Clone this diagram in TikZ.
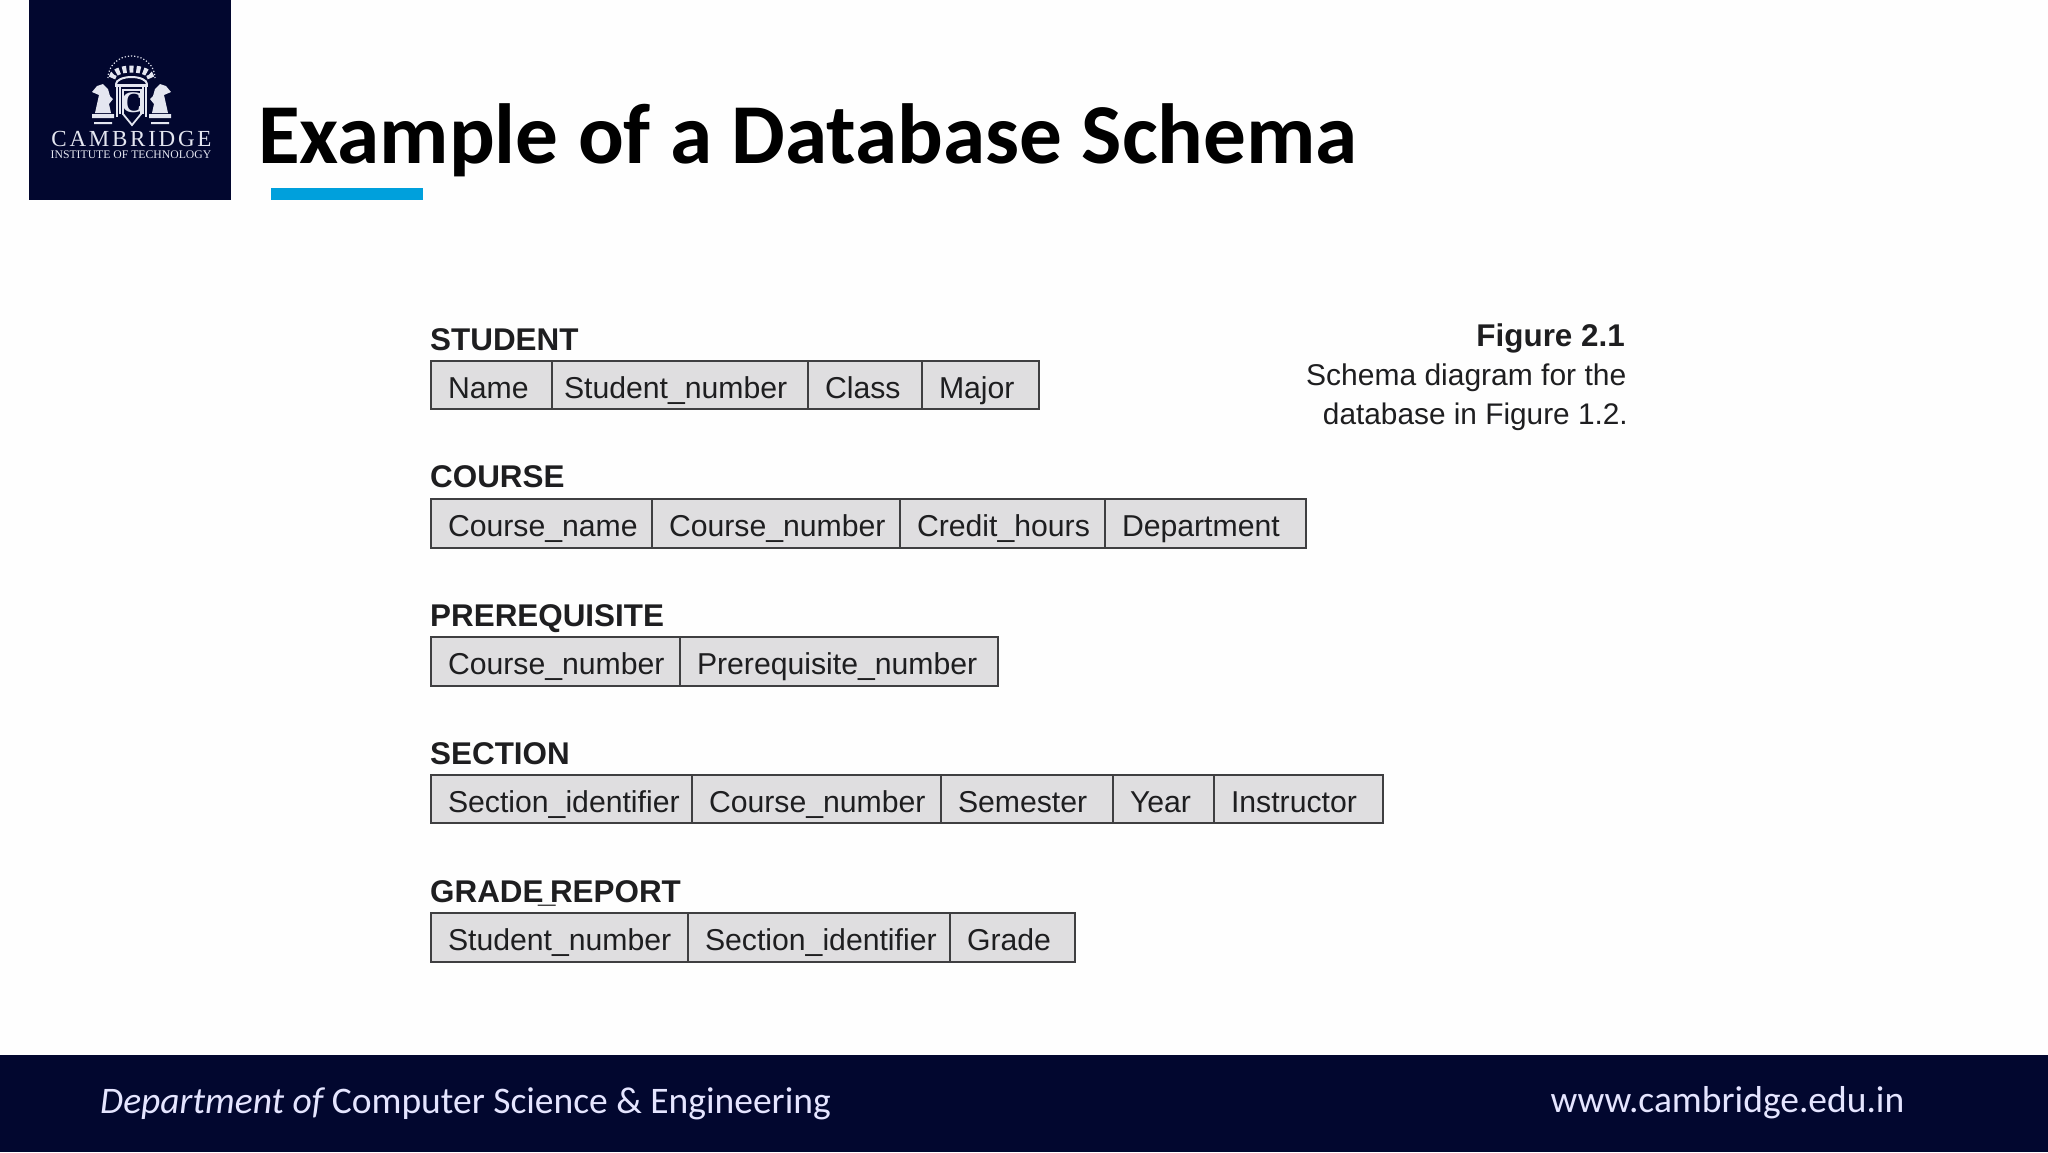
\documentclass[tikz,border=0pt]{standalone}
\usepackage{fontspec}
\setmainfont{Liberation Sans}
\newfontfamily\titlefont{Carlito}
\newfontfamily\crestfont{Liberation Serif}
\definecolor{navy}{HTML}{02072F}
\definecolor{barblue}{HTML}{00A0DC}
\definecolor{cellfill}{HTML}{DFDEE0}
\definecolor{cellline}{HTML}{3F3F41}
\definecolor{inkc}{HTML}{1E1E20}
\definecolor{crestc}{HTML}{E4E6F0}
\newcommand{\cellat}[6]{%
  \pgfmathsetmacro{\cellw}{#3-#2}%
  \pgfmathsetmacro{\cellt}{#3-#2-34}%
  \node[cellbox,minimum width=\cellw pt,text width=\cellt pt,minimum height=#5 pt-#4 pt] (#1) at ({(#2+#3)/2},{(#4+#5)/2}) {\mbox{#6}};}
\tikzset{
  x=1pt,y=-1pt,
  cellbox/.style={draw=cellline,line width=2pt,fill=cellfill,inner xsep=17pt,inner ysep=0pt,text height=26.5pt,text depth=0pt,font=\fontsize{30.2}{30.2}\selectfont,text=inkc},
  headlabel/.style={anchor=base west,inner sep=0pt,font=\fontsize{31.4}{31.4}\selectfont\bfseries,text=inkc},
  caption/.style={anchor=base east,inner sep=0pt,font=\fontsize{30}{30}\selectfont,text=inkc},
  titlelabel/.style={anchor=base west,inner sep=0pt,font=\fontsize{85.3}{85.3}\selectfont\titlefont\bfseries,text=black},
  footlabel/.style={inner sep=0pt,font=\fontsize{37.5}{37.5}\selectfont\titlefont,text=white!90!blue},
  crestline/.style={draw=crestc,line width=1.6pt},
}
\begin{document}
\begin{tikzpicture}
\useasboundingbox (0,0) rectangle (2048,1152);
\fill[white!99.5!black] (0,0) rectangle (2048,1152);
% logo block
\node[fill=navy,minimum width=202pt,minimum height=200pt,inner sep=0pt] (logo) at (130,100) {};
% crest
\draw[crestline,line width=1.2pt,dotted] (108,78) arc[start angle=180,end angle=360,x radius=23.5,y radius=22];
\draw[crestline,line width=7pt,dash pattern=on 4pt off 3pt] (112,78) arc[start angle=180,end angle=360,x radius=19.5,y radius=9];
\draw[crestline,line width=2pt] (116,84) arc[start angle=180,end angle=360,x radius=15.5,y radius=7];
\fill[crestc] (115,84) rectangle (148,87);
\draw[crestline,line width=2pt] (117,87) -- (117,117) (146,87) -- (146,117);
\draw[crestline,line width=1.2pt] (120,87) -- (120,114) (143,87) -- (143,114);
\draw[crestline,line width=1.8pt] (123,90) -- (141,90) -- (141,114) -- (132,125) -- (123,114) -- cycle;
\node[inner sep=0pt,text=crestc,font=\fontsize{30}{30}\selectfont\crestfont\bfseries] (crestC) at (132,103) {C};
\fill[crestc] (92,114) rectangle (114,118) (149,114) rectangle (171,118);
\fill[crestc] (94,122) rectangle (112,124) (151,122) rectangle (169,124);
\fill[crestc] (95,113) -- (97,104) -- (99,95) -- (92,92) -- (97,86) -- (103,84) -- (108,89) -- (110,96) -- (113,99) -- (109,104) -- (111,113) -- cycle;
\fill[crestc] (168,113) -- (166,104) -- (164,95) -- (171,92) -- (166,86) -- (160,84) -- (155,89) -- (153,96) -- (150,99) -- (154,104) -- (152,113) -- cycle;
\node[anchor=base,inner sep=0pt,text=crestc,font=\fontsize{23}{23}\selectfont\crestfont\addfontfeature{LetterSpace=12}] (crestname) at (131.5,146) {CAMBRIDGE};
\node[anchor=base,inner sep=0pt,text=crestc,font=\fontsize{11.7}{11.7}\selectfont\crestfont] (crestsub) at (131,158) {INSTITUTE OF TECHNOLOGY};
% title
\node[titlelabel] (title) at (258,163) {Example of a Database Schema};
\node[fill=barblue,minimum width=151.5pt,minimum height=12pt,inner sep=0pt] (bar) at (347.2,194) {};
% tables
\node[headlabel] (hstudent) at (430,350) {STUDENT};
\cellat{s1}{431}{552}{361}{409}{Name}
\cellat{s2}{552}{808}{361}{409}{\hspace*{-5pt}Student\_number}
\cellat{s3}{808}{922}{361}{409}{Class}
\cellat{s4}{922}{1039}{361}{409}{Major}
\node[headlabel] (hcourse) at (430,487) {COURSE};
\cellat{c1}{431}{652}{499}{548}{Course\_name}
\cellat{c2}{652}{900}{499}{548}{Course\_number}
\cellat{c3}{900}{1105}{499}{548}{Credit\_hours}
\cellat{c4}{1105}{1306}{499}{548}{Department}
\node[headlabel] (hprereq) at (430,626) {PREREQUISITE};
\cellat{p1}{431}{680}{637}{686}{Course\_number}
\cellat{p2}{680}{998}{637}{686}{Prerequisite\_number}
\node[headlabel] (hsection) at (430,764) {SECTION};
\cellat{e1}{431}{692}{775}{823}{Section\_identifier}
\cellat{e2}{692}{941}{775}{823}{Course\_number}
\cellat{e3}{941}{1113}{775}{823}{Semester}
\cellat{e4}{1113}{1214}{775}{823}{Year}
\cellat{e5}{1214}{1383}{775}{823}{Instructor}
\node[headlabel] (hgrade) at (430,902) {GRADE\kern-5.5pt\_\kern-5.5pt REPORT};
\cellat{g1}{431}{688}{913}{962}{Student\_number}
\cellat{g2}{688}{950}{913}{962}{Section\_identifier}
\cellat{g3}{950}{1075}{913}{962}{Grade}
% caption
\node[caption,font=\fontsize{31.4}{31.4}\selectfont\bfseries] (figno) at (1625,346) {Figure 2.1};
\node[caption] (figa) at (1626.5,385) {Schema diagram for the};
\node[caption,font=\fontsize{29.8}{29.8}\selectfont] (figb) at (1628,424) {database in Figure 1.2.};
% footer
\node[fill=navy,minimum width=2048pt,minimum height=97pt,inner sep=0pt] (footer) at (1024,1103.5) {};
\node[footlabel,anchor=base west] (dept) at (100,1113) {\itshape Department of \upshape Computer Science \& Engineering};
\node[footlabel,anchor=base east] (web) at (1904.5,1112) {www.cambridge.edu.in};
\end{tikzpicture}
\end{document}
